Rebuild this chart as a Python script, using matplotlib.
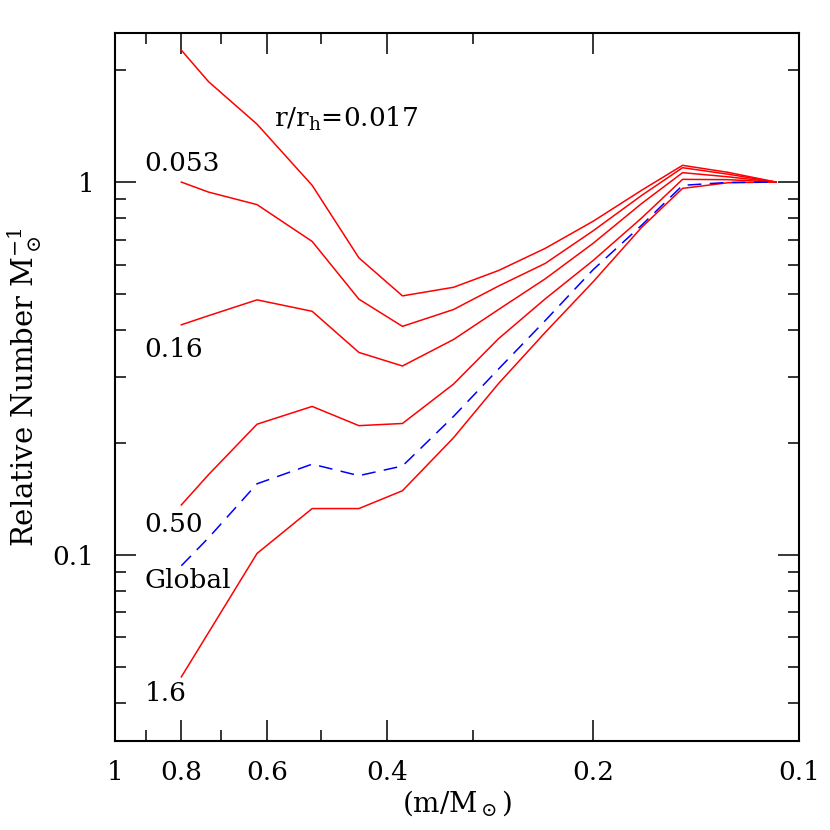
import matplotlib
matplotlib.use('Agg')
import matplotlib.pyplot as plt
from matplotlib.ticker import FixedLocator, FixedFormatter, NullFormatter

plt.rcParams['font.family'] = ['DejaVu Serif']
plt.rcParams['mathtext.fontset'] = 'dejavuserif'

# stellar mass (m/Msun) of each bin
mass = [0.80, 0.73, 0.62, 0.515, 0.44, 0.38, 0.32, 0.275, 0.235, 0.20, 0.17, 0.148, 0.127, 0.108]

# relative number per unit mass, one curve per radius r/r_h
r_0017 = [2.26, 1.86, 1.43, 0.98, 0.626, 0.495, 0.522, 0.579, 0.664, 0.785, 0.95, 1.109, 1.062, 1.0]
r_0053 = [1.0, 0.94, 0.87, 0.693, 0.485, 0.41, 0.455, 0.526, 0.605, 0.74, 0.92, 1.093, 1.05, 1.0]
r_016 = [0.414, 0.438, 0.483, 0.45, 0.349, 0.321, 0.378, 0.455, 0.55, 0.685, 0.875, 1.06, 1.033, 1.0]
r_050 = [0.136, 0.164, 0.224, 0.250, 0.222, 0.225, 0.287, 0.38, 0.486, 0.616, 0.80, 1.017, 1.015, 1.0]
r_16 = [0.047, 0.0618, 0.1008, 0.133, 0.133, 0.1485, 0.206, 0.288, 0.395, 0.54, 0.755, 0.962, 0.996, 1.0]
global_mf = [0.0934, 0.111, 0.155, 0.175, 0.163, 0.173, 0.235, 0.315, 0.425, 0.582, 0.765, 0.98, 0.998, 1.0]

radial_curves = [r_0017, r_0053, r_016, r_050, r_16]

# curve labels: text, x (mass), y (value)
labels = [
    (r'r/r$_{\rm h}$=0.017', 0.5855, 1.474),
    ('0.053', 0.907, 1.124),
    ('0.16', 0.907, 0.355),
    ('0.50', 0.907, 0.1204),
    ('Global', 0.907, 0.0851),
    ('1.6', 0.905, 0.0424),
]

x_major = [1, 0.8, 0.6, 0.4, 0.2, 0.1]
x_major_labels = ['1', '0.8', '0.6', '0.4', '0.2', '0.1']
x_minor = [0.9, 0.7, 0.5, 0.3]
y_major = [0.1, 1]
y_major_labels = ['0.1', '1']
y_minor = [0.04, 0.05, 0.06, 0.07, 0.08, 0.09,
           0.2, 0.3, 0.4, 0.5, 0.6, 0.7, 0.8, 0.9, 2]

fig = plt.figure(figsize=(8.3, 8.3), dpi=100)
ax = fig.add_axes([0.1386, 0.1072, 0.8241, 0.853])

for curve in radial_curves:
    ax.plot(mass, curve, color='red', lw=1.1)
ax.plot(mass, global_mf, color='blue', lw=1.1, dashes=(9, 5.5))

ax.set_xscale('log')
ax.set_yscale('log')
ax.set_xlim(1, 0.1)
ax.set_ylim(10 ** -1.5, 10 ** 0.4)

ax.xaxis.set_major_locator(FixedLocator(x_major))
ax.xaxis.set_major_formatter(FixedFormatter(x_major_labels))
ax.xaxis.set_minor_locator(FixedLocator(x_minor))
ax.xaxis.set_minor_formatter(NullFormatter())
ax.yaxis.set_major_locator(FixedLocator(y_major))
ax.yaxis.set_major_formatter(FixedFormatter(y_major_labels))
ax.yaxis.set_minor_locator(FixedLocator(y_minor))
ax.yaxis.set_minor_formatter(NullFormatter())

ax.tick_params(which='both', direction='in', top=True, right=True, width=1.1)
ax.tick_params(which='major', length=15, labelsize=19)
ax.tick_params(axis='x', which='major', pad=14)
ax.tick_params(axis='y', which='major', pad=15)
ax.tick_params(which='minor', length=8)
for sp in ax.spines.values():
    sp.set_linewidth(1.5)

for txt, xm, yv in labels:
    ax.text(xm, yv, txt, fontsize=19, ha='left', va='center')

ax.set_xlabel(r'(m/M$_\odot$)', fontsize=20, labelpad=2)
ax.set_ylabel(r'Relative Number M$_\odot^{-1}$', fontsize=21, labelpad=6)

plt.savefig('out.png', dpi=100)
plt.close()
